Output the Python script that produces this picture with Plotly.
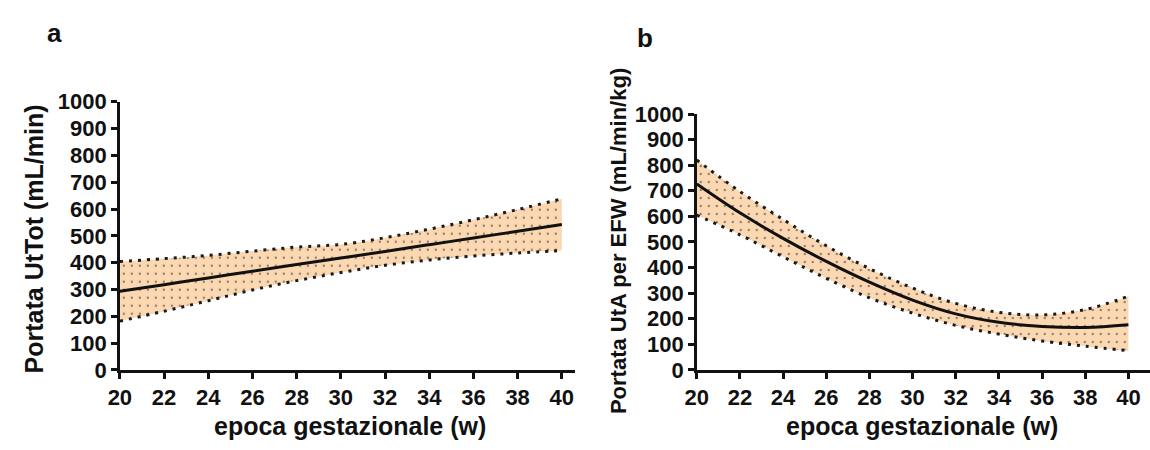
import plotly.graph_objects as go

weeks = [20, 22, 24, 26, 28, 30, 32, 34, 36, 38, 40]

# Panel a: Portata UtTot (mL/min)
a_center = [293, 318, 343, 368, 393, 417, 442, 467, 492, 517, 542]
a_upper = [404, 415, 427, 443, 458, 468, 493, 525, 560, 598, 638]
a_lower = [182, 219, 258, 298, 333, 363, 390, 410, 425, 436, 445]

# Panel b: Portata UtA per EFW (mL/min/kg)
b_center = [727, 614, 514, 424, 343, 273, 219, 186, 170, 166, 177]
b_upper = [820, 697, 588, 485, 396, 320, 260, 225, 215, 236, 288]
b_lower = [605, 528, 442, 358, 282, 222, 174, 140, 113, 93, 75]

y_ticks = [0, 100, 200, 300, 400, 500, 600, 700, 800, 900, 1000]
x_ticks = [20, 22, 24, 26, 28, 30, 32, 34, 36, 38, 40]

FONT = "Liberation Sans"
INK = "#111111"
BAND = "rgb(251,216,178)"

fig = go.Figure()

def add_panel(xa, ya, center, upper, lower):
    border = dict(color="#1a1a1a", width=3, dash="3px,6px", shape="spline")
    fig.add_trace(go.Scatter(x=weeks, y=lower, mode="lines", xaxis=xa, yaxis=ya,
                             line=border, showlegend=False, hoverinfo="skip"))
    fig.add_trace(go.Scatter(x=weeks, y=upper, mode="lines", xaxis=xa, yaxis=ya,
                             fill="tonexty", fillcolor=BAND,
                             fillpattern=dict(shape=".", fgcolor="#262626", bgcolor=BAND,
                                              size=8, solidity=0.07),
                             line=border, showlegend=False, hoverinfo="skip"))
    fig.add_trace(go.Scatter(x=weeks, y=center, mode="lines", xaxis=xa, yaxis=ya,
                             line=dict(color=INK, width=3, shape="spline"),
                             showlegend=False))

add_panel("x", "y", a_center, a_upper, a_lower)
add_panel("x2", "y2", b_center, b_upper, b_lower)

W, H = 1150, 450
tickfont = dict(family=FONT, size=22, color=INK, weight="bold")
axis_common = dict(showline=True, linecolor=INK, linewidth=2.5, ticks="outside",
                   ticklen=6, tickwidth=2.5, tickcolor=INK, showgrid=False,
                   zeroline=False, tickfont=tickfont)

fig.update_layout(
    width=W, height=H, margin=dict(l=0, r=0, t=0, b=0),
    paper_bgcolor="white", plot_bgcolor="white",
    xaxis=dict(domain=[109 / W, 569 / W], range=[20, 40.6], tickvals=x_ticks,
               anchor="y", **axis_common),
    yaxis=dict(domain=[1 - 379 / H, 1 - 95 / H], range=[0, 1000], tickvals=y_ticks,
               anchor="x", **axis_common),
    xaxis2=dict(domain=[692 / W, 1.0], range=[20, 41], tickvals=x_ticks,
                anchor="y2", **axis_common),
    yaxis2=dict(domain=[1 - 379 / H, 1 - 108 / H], range=[0, 1000], tickvals=y_ticks,
                anchor="x2", **axis_common),
)

def tf(size):
    return dict(family=FONT, size=size, color=INK, weight="bold")

annos = [
    dict(text="a", x=43 / W, y=1 - 22 / H, font=tf(26)),
    dict(text="b", x=640 / W, y=1 - 27 / H, font=tf(26)),
    dict(text="epoca gestazionale (w)", x=342 / W, y=1 - 438 / H, font=tf(25)),
    dict(text="epoca gestazionale (w)", x=920 / W, y=1 - 438 / H, font=tf(25)),
    dict(text="Portata UtTot (mL/min)", x=22 / W, y=1 - 240 / H, textangle=-90, font=tf(25)),
    dict(text="Portata UtA per EFW (mL/min/kg)", x=613 / W, y=1 - 243 / H, textangle=-90, font=tf(22)),
]
for a in annos:
    fig.add_annotation(xref="paper", yref="paper", showarrow=False,
                       xanchor="center", yanchor="middle", **a)

fig.write_html("out.html")
